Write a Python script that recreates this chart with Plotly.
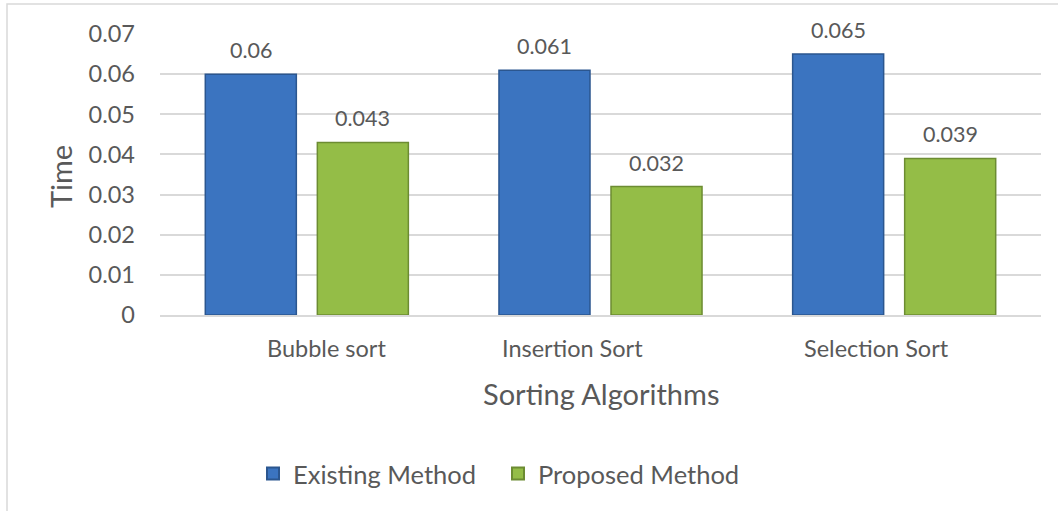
import plotly.graph_objects as go

# Chart data
categories = ["Bubble sort", "Insertion Sort", "Selection Sort"]
existing_method = [0.06, 0.061, 0.065]
proposed_method = [0.043, 0.032, 0.039]
y_tick_values = [0, 0.01, 0.02, 0.03, 0.04, 0.05, 0.06, 0.07]
y_tick_labels = ["0", "0.01", "0.02", "0.03", "0.04", "0.05", "0.06", "0.07"]

FONT = "Lato, Carlito, Calibri, sans-serif"
TEXT = "#595959"
GRID = "#d9d9d9"

W, H = 1058, 511
L, R, T, B = 160, 17, 34, 196
plot_w = W - L - R
plot_h = H - T - B

fig = go.Figure()
fig.add_trace(go.Bar(
    name="Existing Method", x=categories, y=existing_method,
    marker=dict(color="#3b74c0", line=dict(color="#2b568f", width=1.5)),
))
fig.add_trace(go.Bar(
    name="Proposed Method", x=categories, y=proposed_method,
    marker=dict(color="#94bd47", line=dict(color="#6c8c32", width=1.5)),
))

annotations = []
# value labels above each bar
for series, shift in ((existing_method, -56), (proposed_method, 56)):
    for cat, val in zip(categories, series):
        annotations.append(dict(
            x=cat, y=val, xref="x", yref="y", text=str(val), showarrow=False,
            xshift=shift, yshift=24, yanchor="middle",
            font=dict(family=FONT, size=21.5, color=TEXT),
        ))

# category labels under the axis
label_shifts = [20, -28, -18]
for cat, dx in zip(categories, label_shifts):
    annotations.append(dict(
        x=cat, y=0, xref="x", yref="y", text=cat, showarrow=False,
        xshift=dx, yshift=-33, yanchor="middle",
        font=dict(family=FONT, size=23.5, color=TEXT),
    ))

# axis titles
annotations.append(dict(
    x=0.5, y=(H - B - 393) / plot_h, xref="paper", yref="paper",
    text="Sorting Algorithms", showarrow=False, yanchor="middle",
    font=dict(family=FONT, size=29, color=TEXT),
))
annotations.append(dict(
    x=(60 - L) / plot_w, y=(H - B - 177) / plot_h, xref="paper", yref="paper",
    text="Time", showarrow=False, textangle=-90, xanchor="center", yanchor="middle",
    font=dict(family=FONT, size=29, color=TEXT),
))

fig.update_layout(
    width=W, height=H,
    margin=dict(l=L, r=R, t=T, b=B, pad=0),
    paper_bgcolor="white", plot_bgcolor="white",
    barmode="group", bargap=0.237, bargroupgap=0.1875,
    font=dict(family=FONT, color=TEXT),
    showlegend=True,
    legend=dict(
        orientation="h", x=(253 - L) / plot_w, xanchor="left",
        y=(H - B - 474) / plot_h, yanchor="middle",
        font=dict(family=FONT, size=25.5, color=TEXT),
        entrywidth=200, itemsizing="constant", bgcolor="rgba(0,0,0,0)",
    ),
    annotations=annotations,
    shapes=[dict(
        type="rect", xref="paper", yref="paper",
        x0=(7 - L) / plot_w, x1=(W + 5 - L) / plot_w,
        y0=(H - B - (H + 5)) / plot_h, y1=(H - B - 4) / plot_h,
        line=dict(color="#d9d9d9", width=1.5), layer="below",
    )],
)
fig.update_xaxes(
    showticklabels=False, showgrid=False, ticks="",
    showline=True, linecolor=GRID, linewidth=1.5,
)
fig.update_yaxes(
    range=[0, 0.07], tickvals=y_tick_values, ticktext=y_tick_labels,
    showgrid=True, gridcolor=GRID, gridwidth=1.5, zeroline=False,
    showline=False, ticks="", ticklabelstandoff=24,
    tickfont=dict(family=FONT, size=23.5, color=TEXT),
)

fig.write_html("out.html")
